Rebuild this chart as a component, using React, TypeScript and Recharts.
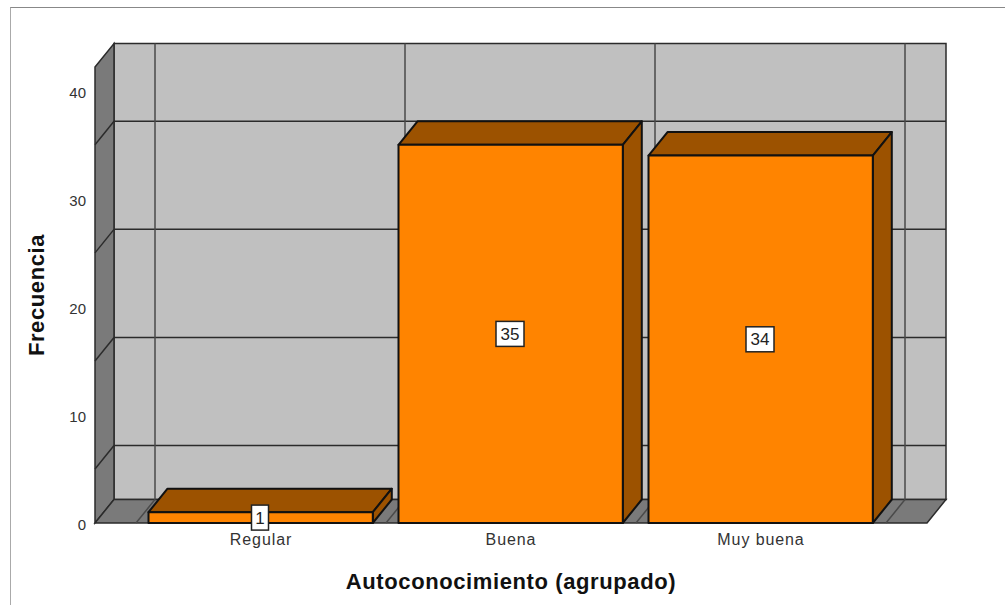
import { BarChart, Bar, XAxis, YAxis, LabelList, usePlotArea } from 'recharts';

const categories = ['Regular', 'Buena', 'Muy buena'];
const frecuencia = [1, 35, 34];
const yTicks = [0, 10, 20, 30, 40];
const wallLines = [5, 15, 25, 35];

const Y_MAX = 42.2;
const X_PAD = 41;
const DX = 19;
const DY = 23.5;

const data = categories.map((name, i) => ({ name, value: frecuencia[i] }));

const FONT = '"Liberation Sans", Arial, sans-serif';

// back wall, left wall and floor of the 3D box
function Walls() {
  const plot = usePlotArea();
  if (!plot) return null;
  const { x, y, width, height } = plot;
  const bottom = y + height;
  const right = x + width;
  const yOf = (v: number) => bottom - (v / Y_MAX) * height;
  const band = (width - X_PAD * 2) / categories.length;
  const edges = [0, 1, 2, 3].map((i) => x + X_PAD + i * band);
  const lineDark = '#2b2b2b';

  return (
    <g>
      <rect x={x + DX} y={y - DY} width={width} height={height} fill="#c0c0c0" stroke={lineDark} strokeWidth={1.5} />
      <polygon
        points={`${x},${y} ${x + DX},${y - DY} ${x + DX},${bottom - DY} ${x},${bottom}`}
        fill="#7a7a7a"
        stroke={lineDark}
        strokeWidth={1.5}
      />
      <polygon
        points={`${x},${bottom} ${x + DX},${bottom - DY} ${right + DX},${bottom - DY} ${right},${bottom}`}
        fill="#7a7a7a"
        stroke={lineDark}
        strokeWidth={1.5}
      />
      {wallLines.map((v) => (
        <g key={v} stroke={lineDark} strokeWidth={1.5}>
          <line x1={x} y1={yOf(v)} x2={x + DX} y2={yOf(v) - DY} />
          <line x1={x + DX} y1={yOf(v) - DY} x2={right + DX} y2={yOf(v) - DY} />
        </g>
      ))}
      {edges.map((ex) => (
        <g key={ex} stroke="#4a4a4a" strokeWidth={1.5}>
          <line x1={ex} y1={bottom} x2={ex + DX} y2={bottom - DY} />
          <line x1={ex + DX} y1={bottom - DY} x2={ex + DX} y2={y - DY} />
        </g>
      ))}
    </g>
  );
}

function Bar3D(props: any) {
  const { x, y, height } = props;
  const width = props.width - 0.7;
  const r = x + width;
  const b = y + height;
  return (
    <g stroke="#111" strokeWidth={2} strokeLinejoin="round">
      <polygon points={`${x},${y} ${x + DX},${y - DY} ${r + DX},${y - DY} ${r},${y}`} fill="#9c5200" />
      <polygon points={`${r},${y} ${r + DX},${y - DY} ${r + DX},${b - DY} ${r},${b}`} fill="#9c5200" />
      <rect x={x} y={y} width={width} height={height} fill="#ff8400" />
    </g>
  );
}

function ValueBox(props: any) {
  const { x, y, width, height, value } = props;
  const cx = x + width / 2 - 1;
  const cy = y + height / 2;
  const w = String(value).length > 1 ? 28 : 17;
  const h = 25;
  return (
    <g>
      <rect x={cx - w / 2} y={cy - h / 2} width={w} height={h} fill="#fff" stroke="#222" strokeWidth={1.5} />
      <text x={cx} y={cy + 6} textAnchor="middle" fontSize={17} fontFamily={FONT} fill="#222">
        {value}
      </text>
    </g>
  );
}

export default function App() {
  return (
    <div style={{ position: 'absolute', left: 0, top: 0, width: 1005, height: 605, background: '#fff', overflow: 'hidden' }}>
      <div
        style={{
          position: 'absolute',
          left: 10,
          top: 7,
          width: 1000,
          height: 600,
          borderLeft: '1px solid #aaa',
          borderTop: '1px solid #888',
        }}
      />
      <div style={{ position: 'absolute', left: 0, top: 0 }}>
        <BarChart
          width={1005}
          height={605}
          data={data}
          margin={{ top: 67, right: 78, bottom: 0, left: 0 }}
          barCategoryGap="5%"
        >
          <Walls />
          <XAxis
            dataKey="name"
            height={82}
            padding={{ left: X_PAD, right: X_PAD }}
            axisLine={false}
            tickLine={false}
            tickMargin={4}
            tick={{ fontSize: 16, letterSpacing: 0.9, fontFamily: FONT, fill: '#333', dy: 1 }}
            label={{
              value: 'Autoconocimiento (agrupado)',
              position: 'insideBottom',
              offset: 16,
              style: { fontSize: 22, letterSpacing: 0.6, fontWeight: 'bold', fontFamily: FONT, fill: '#111' },
            }}
          />
          <YAxis
            width={95}
            domain={[0, Y_MAX]}
            ticks={yTicks}
            axisLine={false}
            tickLine={false}
            tickMargin={3}
            tick={{ fontSize: 15, fontFamily: FONT, fill: '#333', dy: 1.5 }}
            label={{
              value: 'Frecuencia',
              angle: -90,
              position: 'insideLeft',
              offset: 36,
              style: { fontSize: 22, letterSpacing: 0.6, fontWeight: 'bold', fontFamily: FONT, fill: '#111', textAnchor: 'middle' },
            }}
          />
          <Bar dataKey="value" shape={Bar3D} isAnimationActive={false}>
            <LabelList dataKey="value" content={ValueBox} />
          </Bar>
        </BarChart>
      </div>
    </div>
  );
}
